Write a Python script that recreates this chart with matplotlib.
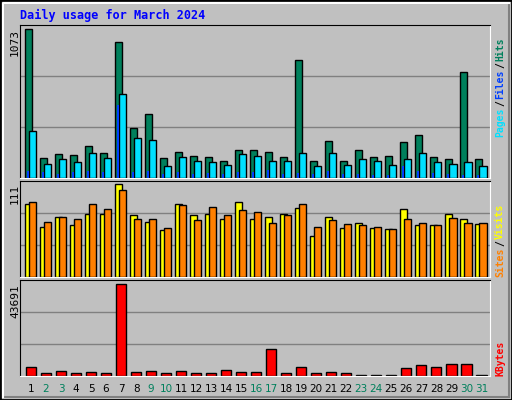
import matplotlib
matplotlib.use("Agg")
import matplotlib.pyplot as plt
from matplotlib.patches import Rectangle

days = list(range(1, 32))
weekend_days = [2, 3, 9, 10, 16, 17, 23, 24, 30, 31]

hits = [1073, 141, 170, 163, 228, 177, 978, 359, 461, 141, 184, 155, 148, 126, 199, 199,
        184, 148, 847, 119, 265, 126, 199, 148, 155, 257, 308, 148, 134, 760, 134]
files = [337, 104, 134, 112, 177, 141, 607, 286, 272, 90, 148, 126, 112, 97, 170, 155,
         126, 119, 177, 83, 177, 97, 134, 119, 97, 134, 177, 112, 104, 112, 90]
pages = [53, 46, 32, 46, 53, 46, 527, 46, 53, 32, 46, 32, 39, 32, 46, 46,
         61, 32, 39, 32, 53, 32, 32, 24, 24, 90, 53, 39, 32, 24, 24]
sites = [88, 60, 72, 62, 76, 76, 111, 74, 66, 56, 88, 74, 76, 70, 90, 69,
         72, 75, 83, 49, 72, 59, 65, 59, 57, 82, 62, 62, 75, 69, 64]
visits = [90, 66, 72, 69, 88, 82, 104, 69, 69, 59, 86, 68, 84, 74, 80, 78,
          65, 74, 88, 60, 68, 63, 62, 60, 57, 69, 65, 62, 71, 65, 65]
kbytes = [4465, 1276, 2232, 1276, 1754, 1276, 43691, 1754, 2232, 1276, 2232, 1276, 1276, 2711, 1754, 1754,
          12756, 1276, 4465, 1276, 1754, 1276, 300, 300, 300, 3986, 5103, 4465, 5581, 5581, 300]

BG = "#C0C0C0"
W, H = 512, 400
fig = plt.figure(figsize=(W / 100, H / 100), dpi=100, facecolor=BG)

# 3D-ish border
fig.patches.append(Rectangle((0, 0), 1, 1, transform=fig.transFigure, fill=False, ec="black", lw=2))
fig.patches.append(Rectangle((3 / W, 3 / H), 1 - 6 / W, 1 - 6 / H, transform=fig.transFigure,
                             fill=False, ec="#808080", lw=1.5))
fig.lines.append(plt.Line2D([3 / W, 3 / W, 1 - 3 / W], [3 / H, 1 - 3 / H, 1 - 3 / H],
                            transform=fig.transFigure, color="white", lw=1.5))


def px_axes(top, bottom, left=20, right=490):
    return fig.add_axes([left / W, 1 - bottom / H, (right - left) / W, (bottom - top) / H])


def style(ax, ymax):
    ax.set_facecolor(BG)
    ax.set_xlim(-0.33, 30.97)
    ax.set_ylim(0, ymax)
    for f in (1 / 3, 2 / 3):
        ax.axhline(ymax * f, color="#808080", lw=1, zorder=0)
    ax.set_xticks([])
    ax.set_yticks([])
    for s in ax.spines.values():
        s.set_color("black")
    ax.spines["right"].set_color("white")
    ax.spines["bottom"].set_color("white")


x = [d - 1 for d in days]
mono = dict(family="DejaVu Sans Mono", fontweight="bold")

# --- Hits / Files / Pages ---
ax1 = px_axes(25, 178)
style(ax1, 1102)
ax1.bar(x, hits, width=0.47, align="edge", color="#00805C", ec="black", lw=1, zorder=2)
ax1.bar([i + 0.27 for i in x], files, width=0.47, align="edge", color="#00E0FF", ec="black", lw=1, zorder=3)
ax1.bar([i + 0.13 for i in x], pages, width=0.13, align="edge", color="#0040FF", lw=0, zorder=4)

# --- Sites / Visits ---
ax2 = px_axes(181, 277)
style(ax2, 115)
ax2.bar(x, sites, width=0.47, align="edge", color="#FFFF00", ec="black", lw=1, zorder=2)
ax2.bar([i + 0.27 for i in x], visits, width=0.47, align="edge", color="#FF8000", ec="black", lw=1, zorder=3)

# --- KBytes ---
ax3 = px_axes(280, 376)
style(ax3, 45590)
ax3.bar([i + 0.07 for i in x], kbytes, width=0.67, align="edge", color="#FF0000", ec="black", lw=1, zorder=2)

# Title
fig.text(20 / W, 1 - 15 / H, "Daily usage for March 2024", color="#0000FF", fontsize=8.5, va="center", **mono)

# Max labels
for y, lbl in [(29, "1073"), (184, "111"), (284, "43691")]:
    fig.text(15 / W, 1 - y / H, lbl, rotation=90, ha="center", va="top", fontsize=8, family="DejaVu Sans Mono")


def right_label(parts, bottom_px, xpx=500, cw=5.45):
    y = bottom_px
    for txt, col in parts:
        fig.text(xpx / W, 1 - y / H, txt, rotation=90, color=col, ha="center", va="bottom", fontsize=7, **mono)
        y -= len(txt) * cw


right_label([("Pages", "#00E0FF"), ("/", "black"), ("Files", "#0040FF"), ("/", "black"), ("Hits", "#00805C")],
            137, cw=6.3)
right_label([("Sites", "#FF8000"), ("/", "black"), ("Visits", "#FFFF00")], 277, cw=6.3)
right_label([("KBytes", "#FF0000")], 376)

# Day labels
for d in days:
    col = "#00805C" if d in weekend_days else "black"
    px = 20 + (d - 1 + 0.33 + 0.4) * 470 / 31.3
    fig.text(px / W, 1 - 389 / H, str(d), color=col, ha="center", va="center", fontsize=7.5)

fig.savefig("out.png", dpi=100, facecolor=BG)
